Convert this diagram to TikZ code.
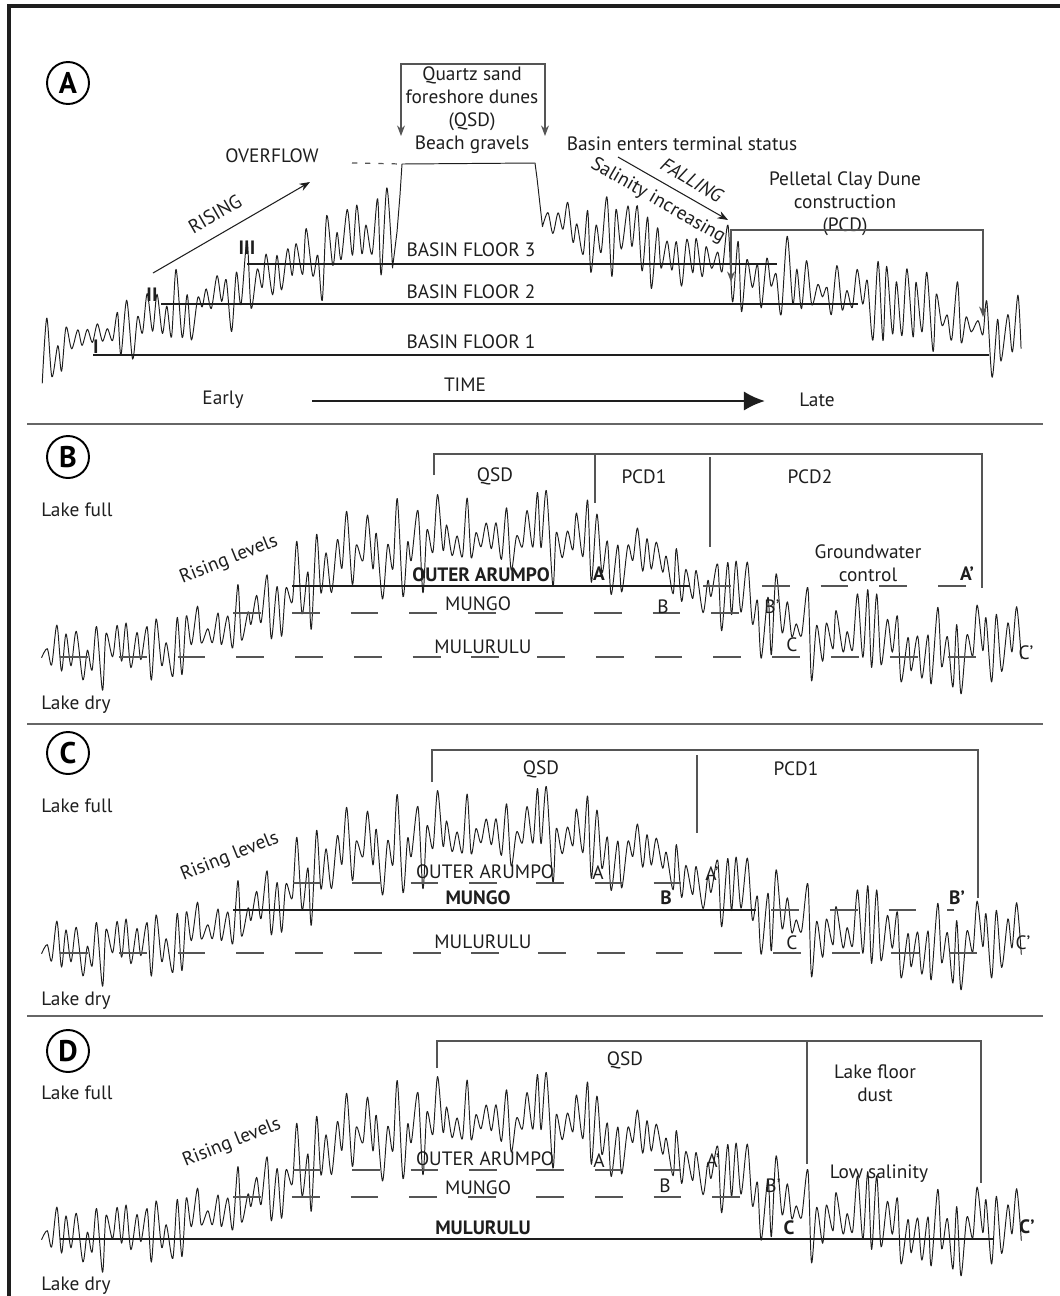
\documentclass[tikz,border=0pt]{standalone}
\usepackage{fontspec}
\setmainfont{PT Sans}
\usetikzlibrary{arrows.meta}

\definecolor{LineGrey}{HTML}{555555}
\definecolor{InkBlack}{HTML}{1E1E1E}

% one lake-level record, shared by panels B, C and D (#1 = vertical offset)
\newcommand\lakecurve[1]{%
  \pgfmathsetseed{4242}%
  \draw[wig] plot[smooth, domain=42:1022, samples=197]
    ({\x+2.2*(rnd-0.5)}, {#1+lbase(\x)+alt(\x-42)*lamp(\x)*wob(rnd)});
}

\begin{document}
\begin{tikzpicture}[
  x=0.02cm, y=-0.02cm,
  wig/.style={line width=0.55pt, line join=round, InkBlack},
  lvl/.style={line width=1.3pt, InkBlack},
  basin/.style={line width=0.9pt, InkBlack},
  lvldash/.style={line width=0.75pt, LineGrey, dash pattern=on 15.9pt off 17.55pt},
  brk/.style={line width=0.7pt, LineGrey},
  divider/.style={line width=0.8pt, black!60},
  lbl/.style={inner sep=0pt, text=InkBlack, font=\fontsize{11}{13}\selectfont},
  blbl/.style={lbl, font=\fontsize{11}{13}\selectfont\bfseries},
  panel/.style={draw, circle, line width=1.1pt, minimum size=0.84cm, inner sep=0pt,
    font=\fontsize{17}{17}\selectfont\bfseries},
  >={Stealth[length=6pt, width=4.5pt]},
  declare function={
    sig(\z)=1/(1+exp(-max(-9,min(9,\z))));
    alt(\d)=1-2*mod(round(\d/5),2);
    wob(\r)=0.1+1.05*\r^1.6;
    lbase(\x)=655-115*sig((\x-280)/45)+105*sig((\x-720)/45);
    lamp(\x)=32+14*sig((\x-200)/40);
  }
]
\useasboundingbox (0,0) rectangle (1060,1296);

% frame and panel dividers
\draw[line width=2.3pt, InkBlack] (9,1296) -- (9,6) -- (1060,6);
\draw[divider] (27,424) -- (1043,424);
\draw[divider] (27,724) -- (1043,724);
\draw[divider] (27,1016) -- (1043,1016);

% Panel A
\node[panel] (pA) at (68,83) {A};

\pgfmathsetseed{77}
\draw[wig] plot[smooth, domain=42:392, samples=71]
    ({\x+2.2*(rnd-0.5)}, {355-0.34*(\x-42)+alt(\x-42)*(32+12*(\x-42)/350)*wob(rnd)})
  -- (397,232) -- (400,195) -- (402,164) coordinate (platL)
  -- (535,163) coordinate (platR) -- (537,178)
  -- plot[smooth, domain=542:1022, samples=97]
    ({\x+2.2*(rnd-0.5)}, {222+0.25*(\x-550)+alt(\x-542)*40*wob(rnd)});

\draw[basin] (247,264) -- (777,264);
\draw[basin] (161,304) -- (858,304);
\draw[basin] (93,355) -- (989,355);
\node[lbl] (bf3) at (471,250) {BASIN FLOOR 3};
\node[lbl] (bf2) at (471,292) {BASIN FLOOR 2};
\node[lbl] (bf1) at (471,342) {BASIN FLOOR 1};
\node[blbl] (n3) at (247,248) {III};
\node[blbl] (n2) at (152,295) {II};
\node[blbl] (n1) at (96,347) {I};

\node[lbl, align=center] (qsd) at (472,110) {Quartz sand\\foreshore dunes\\(QSD)\\Beach gravels};
\coordinate (qsdL) at (401,136);
\coordinate (qsdR) at (545,136);
\draw[brk, <->] (qsdL) |- (473,64) -| (qsdR);

\node[lbl] (overflow) at (272,156) {OVERFLOW};
\draw[LineGrey, line width=0.7pt, dash pattern=on 3pt off 4.5pt] (352,163) -- (platL);

\coordinate (riseS) at (153,273);
\coordinate (riseE) at (310,182);
\draw[->, line width=0.6pt, InkBlack] (riseS) -- (riseE);
\node[lbl, rotate=30] (rising) at (215,214) {RISING};

\node[lbl] (terminal) at (682,144) {Basin enters terminal status};
\coordinate (fallS) at (618,157);
\coordinate (fallE) at (728,220);
\draw[->, line width=0.6pt, InkBlack] (fallS) -- (fallE);
\node[lbl, rotate=-31, font=\fontsize{11}{13}\selectfont\itshape] (falling) at (692,180) {FALLING};
\node[lbl, rotate=-30] (salinity) at (658,201) {Salinity increasing};

\node[lbl, align=center] (pcd) at (845,204) {Pelletal Clay Dune\\construction\\(PCD)};
\coordinate (pcdL) at (731,282);
\coordinate (pcdR) at (983,317);
\draw[brk, <->] (pcdL) |- (857,230) -| (pcdR);

\coordinate (timeS) at (312,401);
\coordinate (timeE) at (765,401);
\draw[-{Latex[length=12pt, width=11pt]}, line width=1.5pt, InkBlack] (timeS) -- (timeE);
\node[lbl] (time) at (465,385) {TIME};
\node[lbl] (early) at (223,400) {Early};
\node[lbl] (late) at (817,400) {Late};

% Panel B
\node[panel] (pB) at (68,457) {B};
\node[lbl, anchor=west] (fullB) at (41,510) {Lake full};
\node[lbl, anchor=west] (dryB) at (41,705) {Lake dry};
\node[lbl, rotate=22] (riseB) at (229,560) {Rising levels};
\lakecurve{0}
\draw[lvl] (292,586) -- (690,586);
\draw[lvldash] (703,586) -- (966,586);
\draw[lvldash] (233,613) -- (497,613);
\draw[lvldash] (535,613) -- (740,613);
\draw[lvldash] (60,657) -- (501,657);
\draw[lvldash] (537,657) -- (978,657);
\draw[brk] (434,475) |- (982,454) -- (982,588);
\draw[brk] (595,454) -- (595,503);
\draw[brk] (710,457) -- (710,547);
\node[lbl] (qsdB) at (495,476) {QSD};
\node[lbl] (pcd1B) at (644,477) {PCD1};
\node[lbl] (pcd2B) at (810,477) {PCD2};
\node[lbl, align=center] (gwB) at (868,563) {Groundwater\\control};
\node[blbl] (oaB) at (481,575) {OUTER ARUMPO};
\node[blbl] (aB) at (599,574) {A};
\node[blbl] (apB) at (967,574) {A\char"2019};
\node[lbl] (muB) at (478,604) {MUNGO};
\node[lbl] (bB) at (663,607) {B};
\node[lbl] (bpB) at (772,607) {B\char"2019};
\node[lbl] (mlB) at (483,647) {MULURULU};
\node[lbl] (cB) at (792,645) {C};
\node[lbl] (cpB) at (1026,653) {C\char"2019};

% Panel C
\node[panel] (pC) at (68,753) {C};
\node[lbl, anchor=west] (fullC) at (41,806) {Lake full};
\node[lbl, anchor=west] (dryC) at (41,1001) {Lake dry};
\node[lbl, rotate=22] (riseC) at (230,857) {Rising levels};
\lakecurve{296}
\draw[lvldash] (293,883) -- (497,883);
\draw[lvldash] (536,883) -- (682,883);
\draw[lvl] (233,910) -- (756,910);
\draw[lvldash] (771,910) -- (917,910);
\draw[LineGrey, line width=0.75pt] (947,910) -- (954,910);
\draw[lvldash] (60,953) -- (501,953);
\draw[lvldash] (538,953) -- (979,953);
\draw[brk] (432,782) |- (978,750) -- (978,898);
\draw[brk] (697,755) -- (697,833);
\node[lbl] (qsdC) at (541,769) {QSD};
\node[lbl] (pcd1C) at (796,769) {PCD1};
\node[lbl] (oaC) at (485,872) {OUTER ARUMPO};
\node[lbl] (aC) at (598,873) {A};
\node[lbl] (apC) at (712,874) {A\char"2019};
\node[blbl] (muC) at (478,898) {MUNGO};
\node[blbl] (bC) at (666,898) {B};
\node[blbl] (bpC) at (957,898) {B\char"2019};
\node[lbl] (mlC) at (483,942) {MULURULU};
\node[lbl] (cC) at (792,943) {C};
\node[lbl] (cpC) at (1023,943) {C\char"2019};

% Panel D
\node[panel] (pD) at (68,1051) {D};
\node[lbl, anchor=west] (fullD) at (41,1093) {Lake full};
\node[lbl, anchor=west] (dryD) at (41,1286) {Lake dry};
\node[lbl, rotate=22] (riseD) at (232,1143) {Rising levels};
\lakecurve{582}
\draw[lvldash] (293,1170) -- (498,1170);
\draw[lvldash] (536,1170) -- (682,1170);
\draw[lvldash] (233,1197) -- (498,1197);
\draw[lvldash] (536,1197) -- (741,1197);
\draw[lvl] (60,1239) -- (993,1239);
\draw[brk] (437,1068) |- (981,1041) -- (981,1183);
\draw[brk] (807,1041) -- (807,1164);
\node[lbl] (qsdD) at (625,1060) {QSD};
\node[lbl, align=center] (dustD) at (875,1083) {Lake floor\\dust};
\node[lbl] (lowD) at (879,1174) {Low salinity};
\node[lbl] (oaD) at (485,1159) {OUTER ARUMPO};
\node[lbl] (aD) at (599,1161) {A};
\node[lbl] (apD) at (713,1161) {A\char"2019};
\node[lbl] (muD) at (478,1188) {MUNGO};
\node[lbl] (bD) at (665,1186) {B};
\node[lbl] (bpD) at (773,1186) {B\char"2019};
\node[blbl] (mlD) at (483,1228) {MULURULU};
\node[blbl] (cD) at (789,1228) {C};
\node[blbl] (cpD) at (1027,1227) {C\char"2019};

\end{tikzpicture}
\end{document}
